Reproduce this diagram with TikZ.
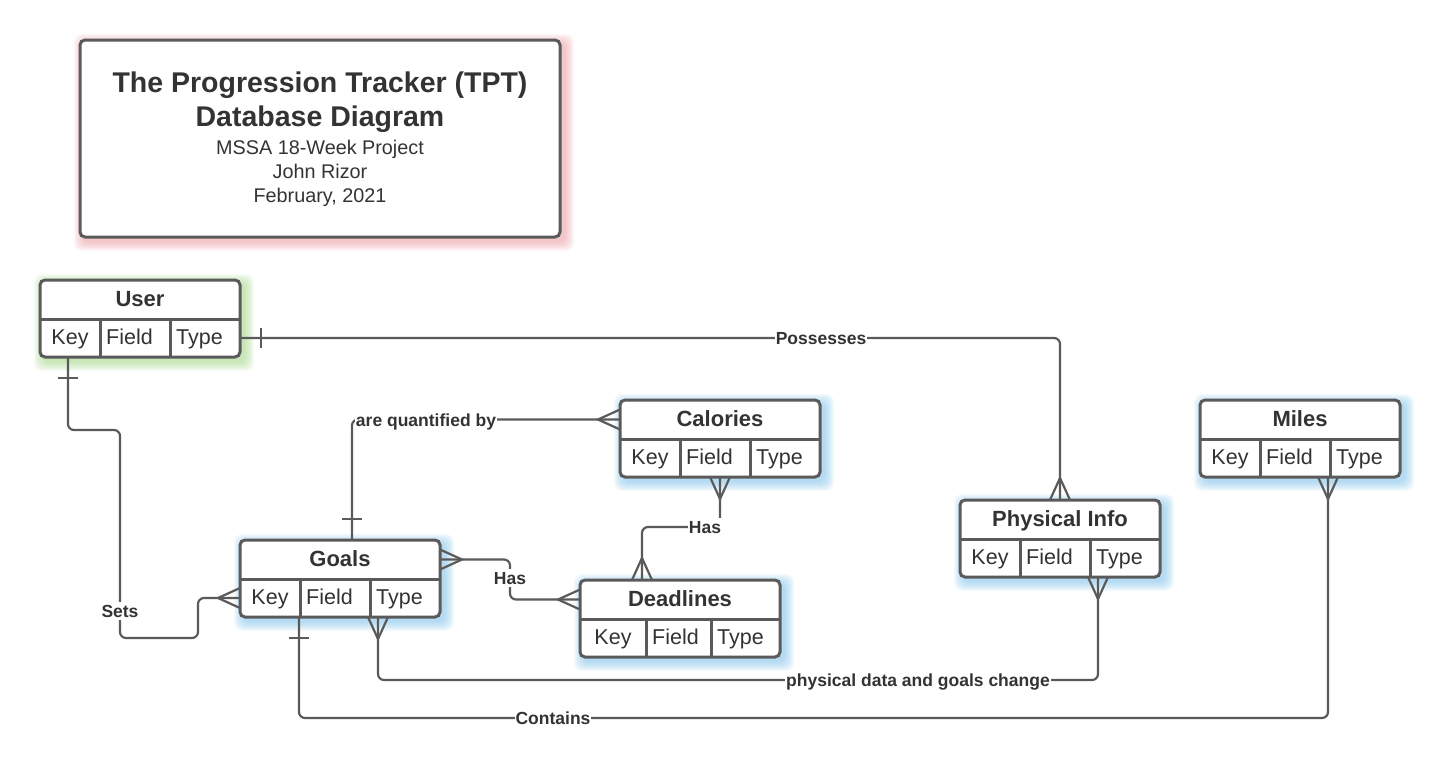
\documentclass[tikz,border=0pt]{standalone}
\usepackage{fontspec}
\setmainfont{Liberation Sans}
\usetikzlibrary{calc}
\definecolor{ln}{HTML}{5A5A5A}
\definecolor{tx}{HTML}{333333}
\definecolor{glowblue}{HTML}{7CC4EE}
\definecolor{glowgreen}{HTML}{A0D880}
\definecolor{glowpink}{HTML}{EF9AA2}

\newcommand\glowrect[5]{%
  \foreach \k in {1,...,10}{
    \fill[#1, fill opacity=0.075, rounded corners=8pt] ({#2+4-\k},{#3+4-\k}) rectangle ({#4+4+\k},{#5+4+\k});
  }}

\newcommand\ertable[7]{%
  \glowrect{#5}{#2}{#3}{#2+200}{#3+77}
  \node[tbl, anchor=north west] (#1) at (#2,#3) {};
  \coordinate (#1-h) at ($(#1.north)+(0,19.5)$);
  \coordinate (#1-r) at ($(#1.south)+(0,-19)$);
  \draw[tline] ($(#1.north west)+(0,39)$) -- ($(#1.north east)+(0,39)$);
  \draw[tline] ($(#1.north west)+(#6,39)$) -- ($(#1.south west)+(#6,0)$);
  \draw[tline] ($(#1.north west)+(#7,39)$) -- ($(#1.south west)+(#7,0)$);
  \node[hdr, anchor=base] (#1-t) at ($(#1.north)+(0,26.5)$) {#4};
  \node[celltxt, anchor=base] (#1-k) at ($(#1.south west)+({#6/2},-12.5)$) {Key};
  \node[celltxt, anchor=base west] (#1-f) at ($(#1.south west)+({#6+6},-12.5)$) {Field};
  \node[celltxt, anchor=base west] (#1-y) at ($(#1.south west)+({#7+6},-12.5)$) {Type};
}

\begin{document}
\begin{tikzpicture}[x=1pt,y=-1pt,
  tbl/.style={draw=ln, line width=3pt, fill=white, rounded corners=5pt, minimum width=200pt, minimum height=77pt, inner sep=0pt, outer sep=0pt},
  tline/.style={draw=ln, line width=3pt},
  hdr/.style={font=\fontsize{22}{26}\selectfont\bfseries, text=tx, inner sep=0pt},
  celltxt/.style={font=\fontsize{21.5}{26}\selectfont, text=tx, inner sep=0pt},
  conn/.style={draw=ln, line width=2.2pt, rounded corners=6pt},
  mk/.style={draw=ln, line width=2.2pt},
  lbl/.style={font=\fontsize{17.5}{20}\selectfont\bfseries, text=tx, fill=white, inner xsep=1pt, inner ysep=3pt, text height=12.5pt, text depth=0pt},
  ttl/.style={font=\fontsize{28.5}{34}\selectfont\bfseries, text=tx, anchor=base, inner sep=0pt},
  sub/.style={font=\fontsize{19.8}{24}\selectfont, text=tx, anchor=base, inner sep=0pt},
  crowfoot/.pic={\draw[mk] (0,-10) -- (22,0) -- (0,10);},
  onebar/.pic={\draw[mk] (21,-10) -- (21,10);}
]
\fill[white] (0,0) rectangle (1440,771);
\useasboundingbox (0,0) rectangle (1440,771);

% title block
\glowrect{glowpink}{80}{40}{560}{237}
\node[draw=ln, line width=3pt, fill=white, rounded corners=5pt, minimum width=480pt, minimum height=197pt, anchor=north west, inner sep=0pt, outer sep=0pt] (titlebox) at (80,40) {};
\node[ttl] (t1) at (320,92) {The Progression Tracker (TPT)};
\node[ttl] (t2) at (320,126.5) {Database Diagram};
\node[sub] (t3) at (320,154) {MSSA 18-Week Project};
\node[sub] (t4) at (320,178) {John Rizor};
\node[sub] (t5) at (320,202) {February, 2021};

% tables
\ertable{user}{40}{280}{User}{glowgreen}{60}{130}
\ertable{cal}{620}{400}{Calories}{glowblue}{60}{130}
\ertable{miles}{1200}{400}{Miles}{glowblue}{60}{130}
\ertable{phys}{960}{500}{Physical Info}{glowblue}{60}{130}
\ertable{goals}{240}{540}{Goals}{glowblue}{60}{130}
\ertable{dead}{580}{580}{Deadlines}{glowblue}{66}{131}

% connection points
\coordinate (uR) at (user.east |- user-r);
\coordinate (uB) at ($(user.south)+(-72,0)$);
\coordinate (gL) at (goals.west |- goals-r);
\coordinate (gT) at ($(goals.north)+(12,0)$);
\coordinate (gR) at (goals.east |- goals-h);
\coordinate (gB1) at ($(goals.south)+(38,0)$);
\coordinate (gB2) at ($(goals.south)+(-41,0)$);
\coordinate (cL) at (cal.west |- cal-h);
\coordinate (dL) at (dead.west |- dead-h);
\coordinate (dT) at ($(dead.north)+(-38,0)$);
\coordinate (pB) at ($(phys.south)+(38,0)$);
\coordinate (mB) at ($(miles.south)+(28,0)$);

% connectors
\draw[conn] (uR) -| (phys.north);
\draw[conn] (uB) |- (120,430) |- (198,638) |- (gL);
\draw[conn] (gT) |- (cL);
\draw[conn] (gR) -| (510,580) |- (dL);
\draw[conn] (cal.south) -- ++(0,50) -| (dT);
\draw[conn] (gB1) -- ++(0,63) -| (pB);
\draw[conn] (gB2) -- ++(0,101) -| (mB);

% end marks
\pic at (uR) {onebar};
\pic[rotate=90] at (phys.north) {crowfoot};
\pic[rotate=-90] at (uB) {onebar};
\pic[rotate=180] at (gL) {crowfoot};
\pic[rotate=90] at (gT) {onebar};
\pic[rotate=180] at (cL) {crowfoot};
\pic at (gR) {crowfoot};
\pic[rotate=180] at (dL) {crowfoot};
\pic[rotate=-90] at (cal.south) {crowfoot};
\pic[rotate=90] at (dT) {crowfoot};
\pic[rotate=-90] at (gB1) {crowfoot};
\pic[rotate=-90] at (pB) {crowfoot};
\pic[rotate=-90] at (gB2) {onebar};
\pic[rotate=-90] at (mB) {crowfoot};

% labels
\node[lbl] (lposs) at (821,338) {Possesses};
\node[lbl] (lsets) at (120,611) {Sets};
\node[lbl] (lquant) at (426,420) {are quantified by};
\node[lbl] (lhas1) at (510,578) {Has};
\node[lbl] (lhas2) at (705,527) {Has};
\node[lbl] (lphys) at (918,680) {physical data and goals change};
\node[lbl] (lcont) at (553,718) {Contains};
\end{tikzpicture}
\end{document}
